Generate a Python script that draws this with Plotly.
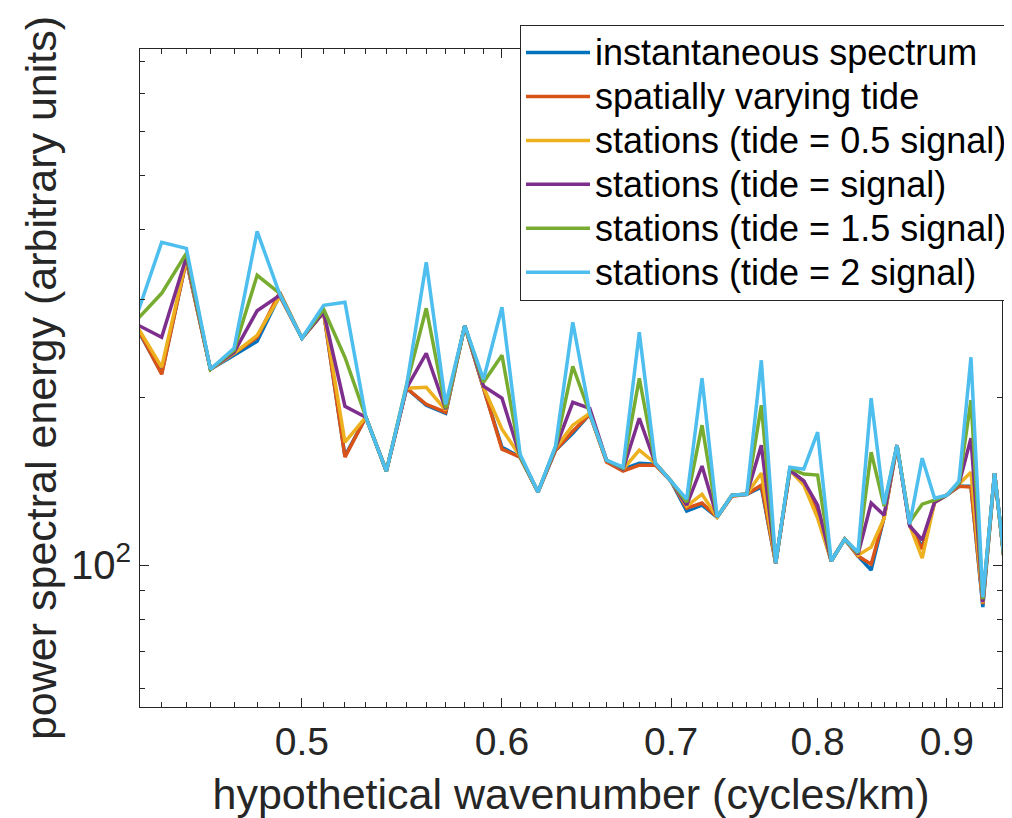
import plotly.graph_objects as go

wavenumber = [0.43, 0.44, 0.45, 0.46, 0.47, 0.48, 0.49, 0.50, 0.51, 0.52,
              0.53, 0.54, 0.55, 0.56, 0.57, 0.58, 0.59, 0.60, 0.61, 0.62,
              0.63, 0.64, 0.65, 0.66, 0.67, 0.68, 0.69, 0.70, 0.71, 0.72,
              0.73, 0.74, 0.75, 0.76, 0.77, 0.78, 0.79, 0.80, 0.81, 0.82,
              0.83, 0.84, 0.85, 0.86, 0.87, 0.88, 0.89, 0.90, 0.91, 0.92,
              0.93, 0.94, 0.95]

instantaneous = [267.0, 220.8, 352.0, 224.5, 237.9, 252.0, 304.7, 255.2, 284.1, 156.8,
                 184.2, 147.4, 207.6, 193.5, 187.2, 268.7, 207.6, 162.7, 156.2, 135.2,
                 160.7, 172.4, 186.5, 153.6, 148.6, 152.3, 151.7, 141.4, 125.0, 128.1,
                 121.9, 133.5, 134.0, 138.0, 100.8, 148.0, 141.4, 123.4, 101.7, 111.3,
                 103.8, 98.0, 121.9, 164.1, 117.9, 107.7, 129.7, 133.5, 138.5, 138.5,
                 84.1, 146.2, 94.8]

spatial_tide = [268.1, 219.9, 352.0, 224.5, 239.8, 256.2, 308.5, 255.2, 284.1, 156.2,
                184.2, 147.4, 207.6, 194.3, 188.0, 268.7, 207.6, 161.4, 156.2, 135.2,
                160.7, 173.8, 186.5, 153.0, 147.4, 151.1, 151.1, 141.4, 126.5, 129.2,
                121.9, 132.9, 134.0, 139.1, 100.8, 147.4, 141.4, 123.4, 101.7, 111.3,
                103.8, 100.4, 121.9, 164.1, 117.9, 106.8, 129.7, 133.5, 138.5, 138.0,
                85.1, 146.2, 94.8]

stations_05 = [269.2, 226.4, 353.5, 224.5, 239.8, 258.3, 303.4, 255.2, 284.1, 166.1,
               184.2, 147.4, 207.6, 208.4, 189.6, 268.7, 208.4, 175.3, 156.8, 135.2,
               162.1, 178.2, 187.2, 154.2, 148.6, 160.7, 152.3, 141.4, 127.6, 134.0,
               121.9, 133.5, 134.0, 146.2, 100.8, 148.0, 139.1, 121.4, 101.7, 111.3,
               104.2, 107.7, 121.4, 164.1, 117.9, 102.9, 129.7, 133.5, 139.7, 146.8,
               85.5, 146.2, 94.8]

stations_10 = [270.3, 256.2, 356.4, 224.5, 240.8, 285.8, 304.7, 255.2, 284.1, 192.7,
               184.2, 147.4, 207.6, 239.8, 190.4, 268.7, 209.3, 199.2, 156.8, 135.2,
               162.1, 195.9, 191.1, 154.2, 148.6, 183.4, 152.3, 141.4, 128.1, 150.5,
               121.9, 133.5, 134.0, 164.1, 100.8, 148.0, 141.4, 128.1, 101.7, 111.3,
               104.6, 129.2, 122.9, 164.1, 117.5, 110.9, 129.7, 133.5, 139.7, 168.9,
               85.8, 146.2, 94.8]

stations_15 = [274.8, 307.2, 362.4, 224.5, 242.8, 330.9, 307.2, 255.2, 287.6, 235.9,
               184.2, 147.4, 210.2, 288.8, 191.1, 268.7, 212.8, 237.9, 156.8, 135.2,
               162.7, 227.3, 187.2, 154.2, 149.2, 216.3, 152.3, 141.4, 129.7, 178.2,
               121.9, 133.5, 134.0, 193.5, 100.8, 149.2, 145.6, 145.0, 101.7, 111.3,
               105.1, 159.4, 127.6, 164.1, 119.4, 128.6, 130.8, 133.5, 140.3, 197.6,
               86.9, 146.2, 94.8]

stations_20 = [279.4, 379.2, 369.9, 224.5, 244.8, 396.8, 306.0, 255.2, 292.4, 296.0,
               184.2, 147.4, 209.3, 349.1, 194.3, 268.7, 215.4, 290.0, 158.1, 135.2,
               163.4, 272.6, 187.2, 154.2, 149.8, 261.6, 152.3, 141.4, 131.3, 216.3,
               121.9, 133.5, 134.0, 233.0, 100.8, 149.8, 148.6, 173.1, 101.7, 111.3,
               105.5, 199.2, 128.6, 164.1, 118.4, 155.5, 131.8, 133.5, 141.4, 235.9,
               87.6, 146.2, 95.6]

series_names = ["instantaneous spectrum", "spatially varying tide",
                "stations (tide = 0.5 signal)", "stations (tide = signal)",
                "stations (tide = 1.5 signal)", "stations (tide = 2 signal)"]
series_values = [instantaneous, spatial_tide, stations_05, stations_10, stations_15, stations_20]
series_colors = ["#0072BD", "#D95319", "#EDB120", "#7E2F8E", "#77AC30", "#4DBEEE"]

x_major = [0.5, 0.6, 0.7, 0.8, 0.9]
x_major_text = ["0.5", "0.6", "0.7", "0.8", "0.9"]
x_minor = [0.44, 0.45, 0.46, 0.47, 0.48, 0.49, 0.51, 0.52, 0.53, 0.54, 0.55, 0.56,
           0.57, 0.58, 0.59, 0.61, 0.62, 0.63, 0.64, 0.65, 0.66, 0.67, 0.68, 0.69,
           0.71, 0.72, 0.73, 0.74, 0.75, 0.76, 0.77, 0.78, 0.79, 0.81, 0.82, 0.83,
           0.84, 0.85, 0.86, 0.87, 0.88, 0.89, 0.91, 0.92, 0.93, 0.94]
y_major = [100]
y_major_text = ["10<sup>2</sup>"]
y_minor = [60, 70, 80, 90, 200, 300, 400, 500, 600, 700, 800]

FONT = "Liberation Sans, Arial, Helvetica, sans-serif"
AX = "#262626"

fig = go.Figure()
for name, vals, col in zip(series_names, series_values, series_colors):
    fig.add_trace(go.Scatter(x=wavenumber, y=vals, mode="lines",
                             name='<span style="font-size:36px">' + name + '</span>',
                             line=dict(color=col, width=3.5)))

# page body adds an 8px offset, so margins are reduced by 8 on the left/top
fig.update_layout(
    width=1012, height=818,
    margin=dict(l=132, r=18, t=40.5, b=119, autoexpand=False),
    paper_bgcolor="white", plot_bgcolor="white",
    font=dict(family=FONT, color=AX),
    showlegend=True,
    legend=dict(x=(1013 - 140) / 862, y=(707 - 24) / 658.5, xanchor="right", yanchor="top",
                bgcolor="white", bordercolor=AX, borderwidth=1,
                font=dict(family=FONT, size=31.5, color="black"),
                tracegroupgap=0, itemwidth=64),
)
fig.update_xaxes(
    type="log", range=[-0.36512, -0.02393], automargin=False,
    tickmode="array", tickvals=x_major, ticktext=x_major_text,
    ticks="inside", ticklen=9, tickcolor=AX, tickwidth=1,
    tickfont=dict(family=FONT, size=39, color=AX), ticklabelstandoff=0,
    minor=dict(tickmode="array", tickvals=x_minor, ticks="inside", ticklen=5,
               tickcolor=AX, tickwidth=1, showgrid=False),
    showline=True, linecolor=AX, linewidth=1, mirror="ticks",
    showgrid=False, zeroline=False,
    title=dict(text="hypothetical wavenumber (cycles/km)",
               font=dict(family=FONT, size=43, color=AX), standoff=17),
)
fig.update_yaxes(
    type="log", range=[1.7455, 2.9256], automargin=False,
    tickmode="array", tickvals=y_major, ticktext=y_major_text,
    ticks="inside", ticklen=9, tickcolor=AX, tickwidth=1,
    tickfont=dict(family=FONT, size=40, color=AX),
    minor=dict(tickmode="array", tickvals=y_minor, ticks="inside", ticklen=5,
               tickcolor=AX, tickwidth=1, showgrid=False),
    showline=True, linecolor=AX, linewidth=1, mirror="ticks",
    showgrid=False, zeroline=False,
    title=dict(text="power spectral energy (arbitrary units)",
               font=dict(family=FONT, size=43, color=AX), standoff=0),
)

fig.write_html("out.html")
